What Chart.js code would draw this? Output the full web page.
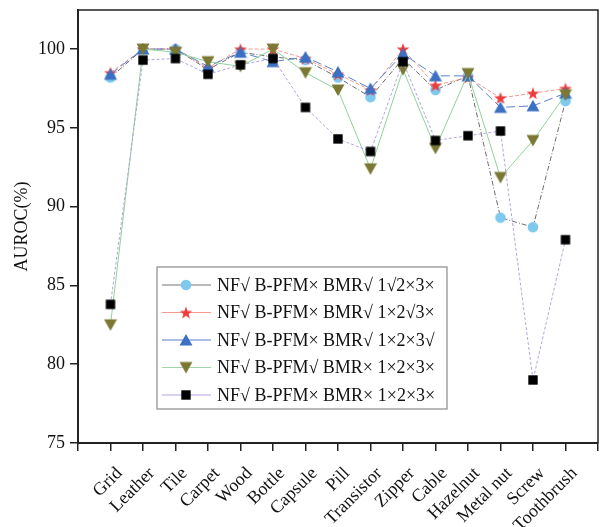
<!DOCTYPE html>
<html lang="en">
<head>
  <meta charset="UTF-8">
  <title>AUROC ablation</title>
  <script src="https://cdn.jsdelivr.net/npm/chart.js"></script>
  <style>
    html, body { margin: 0; padding: 0; background: #fff; }
    #wrap { width: 605px; height: 527px; }
  </style>
</head>
<body>
  <div id="wrap"><canvas id="grafico" width="605" height="527"></canvas></div>

  <script>
    const categories = ["Grid", "Leather", "Tile", "Carpet", "Wood", "Bottle", "Capsule", "Pill",
      "Transistor", "Zipper", "Cable", "Hazelnut", "Metal nut", "Screw", "Toothbrush"];

    const seriesNames = [
      "NF\u221A B-PFM\u00D7 BMR\u221A 1\u221A2\u00D73\u00D7",
      "NF\u221A B-PFM\u00D7 BMR\u221A 1\u00D72\u221A3\u00D7",
      "NF\u221A B-PFM\u00D7 BMR\u221A 1\u00D72\u00D73\u221A",
      "NF\u221A B-PFM\u221A BMR\u00D7 1\u00D72\u00D73\u00D7",
      "NF\u221A B-PFM\u00D7 BMR\u00D7 1\u00D72\u00D73\u00D7"
    ];

    const circleVals = [98.2, 100, 100, 98.7, 99.8, 99.5, 99.3, 98.2, 96.95, 99.4, 97.4, 98.3, 89.3, 88.7, 96.7];
    const starVals = [98.5, 100, 100, 98.8, 100, 100, 99.4, 98.4, 97.4, 100, 97.7, 98.2, 96.9, 97.2, 97.5];
    const triUpVals = [98.4, 100, 100, 98.9, 99.8, 99.2, 99.5, 98.55, 97.5, 99.7, 98.3, 98.3, 96.3, 96.4, 97.2];
    const triDownVals = [82.5, 100, 99.8, 99.2, 98.9, 100, 98.5, 97.4, 92.4, 98.7, 93.7, 98.45, 91.85, 94.2, 97.1];
    const squareVals = [83.8, 99.3, 99.4, 98.4, 99.0, 99.4, 96.3, 94.3, 93.5, 99.2, 94.2, 94.5, 94.8, 79.0, 87.9];

    const yTicks = [75, 80, 85, 90, 95, 100];

    const FONT = '"Liberation Serif", "Times New Roman", serif';

    // marcadores desenhados em canvas pequenos (usados no gráfico e na legenda)
    function marcador(tipo, cor) {
      const c = document.createElement("canvas");
      const s = 14;
      c.width = s; c.height = s;
      const g = c.getContext("2d");
      g.fillStyle = cor;
      g.beginPath();
      if (tipo === "circle") {
        g.arc(7, 7, 5.3, 0, Math.PI * 2);
      } else if (tipo === "star") {
        for (let i = 0; i < 10; i++) {
          const r = i % 2 === 0 ? 6.6 : 2.7;
          const a = -Math.PI / 2 + i * Math.PI / 5;
          g.lineTo(7 + r * Math.cos(a), 7.6 + r * Math.sin(a));
        }
      } else if (tipo === "up") {
        g.moveTo(7, 1); g.lineTo(13.5, 12.5); g.lineTo(0.5, 12.5);
      } else if (tipo === "down") {
        g.moveTo(0.5, 1.5); g.lineTo(13.5, 1.5); g.lineTo(7, 13);
      } else {
        g.rect(2.3, 2.3, 9.4, 9.4);
      }
      g.closePath();
      g.fill();
      return c;
    }

    const estilos = [
      { mk: marcador("circle", "#7fc9ef"), line: "#6d6d6d", dash: [5, 2, 1, 2], order: 4 },
      { mk: marcador("star", "#ee3b3b"), line: "#f49a8e", dash: [4, 2], order: 3 },
      { mk: marcador("up", "#3b70c2"), line: "#5b7fd0", dash: [9, 4], order: 2 },
      { mk: marcador("down", "#7b7834"), line: "#8fd39a", dash: [], order: 1 },
      { mk: marcador("square", "#000000"), line: "#b7a2df", dash: [3, 2], order: 0 }
    ];
    const legendLines = ["#777777", "#f49a8e", "#5b7fd0", "#9ed6a6", "#b7a2df"];

    const allVals = [circleVals, starVals, triUpVals, triDownVals, squareVals];

    const datasets = allVals.map((vals, k) => ({
      label: seriesNames[k],
      data: vals.map((v, i) => ({ x: i + 1, y: v })),
      borderColor: estilos[k].line,
      borderWidth: 1,
      borderDash: estilos[k].dash,
      pointStyle: estilos[k].mk,
      pointRadius: 6,
      order: estilos[k].order,
      fill: false,
      tension: 0
    }));

    // moldura + legenda dentro da área do gráfico
    const molduraLegenda = {
      id: "molduraLegenda",
      afterDraw(chart) {
        const ctx = chart.ctx;
        const a = chart.chartArea;
        ctx.save();
        ctx.strokeStyle = "#222";
        ctx.lineWidth = 1.5;
        ctx.beginPath();
        ctx.moveTo(a.left, a.top);
        ctx.lineTo(a.right, a.top);
        ctx.lineTo(a.right, a.bottom);
        ctx.stroke();

        const bx = 157, by = 267, bw = 290, bh = 142;
        ctx.fillStyle = "#fff";
        ctx.fillRect(bx, by, bw, bh);
        ctx.strokeStyle = "#8a8a8a";
        ctx.lineWidth = 1.2;
        ctx.strokeRect(bx, by, bw, bh);

        ctx.font = "18px " + FONT;
        ctx.textBaseline = "middle";
        ctx.fillStyle = "#111";
        const rows = [285, 312.5, 340, 367.5, 395];
        rows.forEach((y, k) => {
          ctx.strokeStyle = legendLines[k];
          ctx.lineWidth = 1.2;
          ctx.beginPath();
          ctx.moveTo(162, y);
          ctx.lineTo(211, y);
          ctx.stroke();
          const mk = estilos[k].mk;
          ctx.drawImage(mk, 186 - mk.width / 2, y - mk.height / 2);
          ctx.fillText(seriesNames[k], 217, y + 1);
        });
        ctx.restore();
      }
    };

    new Chart(document.getElementById("grafico"), {
      type: "line",
      data: { datasets: datasets },
      plugins: [molduraLegenda],
      options: {
        responsive: false,
        animation: false,
        layout: { padding: { top: 10, right: 6, left: 0, bottom: 0 } },
        plugins: { legend: { display: false }, tooltip: { enabled: false } },
        scales: {
          x: {
            type: "linear",
            min: 0,
            max: categories.length + 1,
            afterBuildTicks(scale) {
              const t = [];
              for (let i = 0; i <= categories.length + 1; i++) t.push({ value: i });
              scale.ticks = t;
            },
            afterFit(scale) {
              scale.height = 84;
              scale.paddingLeft = 0;
              scale.paddingRight = 0;
            },
            grid: { drawOnChartArea: false, drawTicks: true, tickLength: 8, color: "#222", lineWidth: 1.5 },
            border: { display: true, color: "#222", width: 2 },
            ticks: {
              minRotation: 45,
              maxRotation: 45,
              autoSkip: false,
              padding: 12,
              labelOffset: 9,
              color: "#111",
              font: { family: FONT, size: 18 },
              callback: (v) => categories[v - 1] || ""
            }
          },
          y: {
            min: 75,
            max: 102.48,
            afterBuildTicks(scale) { scale.ticks = yTicks.map(v => ({ value: v })); },
            afterFit(scale) {
              scale.width = 78;
              scale.paddingTop = 0;
              scale.paddingBottom = 0;
            },
            grid: { drawOnChartArea: false, drawTicks: true, tickLength: 8, color: "#222", lineWidth: 1.5 },
            border: { display: true, color: "#222", width: 2 },
            title: {
              display: true,
              text: "AUROC(%)",
              color: "#111",
              font: { family: FONT, size: 18 },
              padding: { top: 11, bottom: 0 }
            },
            ticks: {
              padding: 5,
              color: "#111",
              font: { family: FONT, size: 18 }
            }
          }
        }
      }
    });
  </script>
</body>
</html>
